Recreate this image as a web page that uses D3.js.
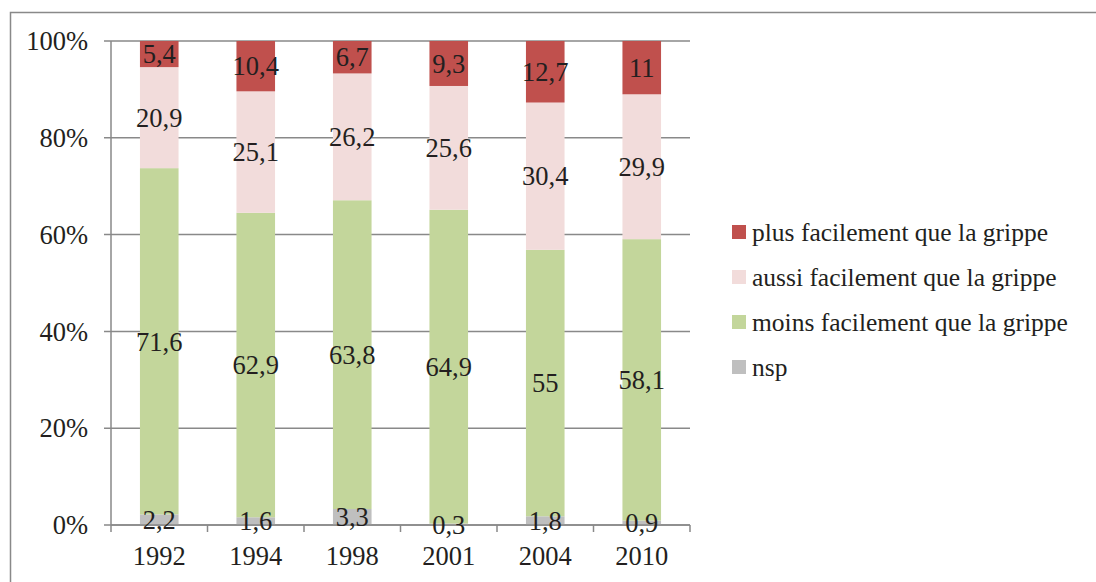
<!DOCTYPE html>
<html><head><meta charset="utf-8">
<script src="https://cdn.jsdelivr.net/npm/d3@7"></script>
<style>body{margin:0;background:#fff;} svg{display:block;}</style>
</head><body>
<svg id="c" width="1096" height="582" font-family="Liberation Serif"></svg>
<script>
const years = ["1992","1994","1998","2001","2004","2010"];
const seriesNames = ["nsp","moins facilement que la grippe","aussi facilement que la grippe","plus facilement que la grippe"];
const nsp   = [2.2, 1.6, 3.3, 0.3, 1.8, 0.9];
const moins = [71.6, 62.9, 63.8, 64.9, 55, 58.1];
const aussi = [20.9, 25.1, 26.2, 25.6, 30.4, 29.9];
const plus  = [5.4, 10.4, 6.7, 9.3, 12.7, 11];
const yTicks = [0, 0.2, 0.4, 0.6, 0.8, 1];
const colors = ["#BFBFBF", "#C3D69B", "#F2DCDB", "#C0504D"];

const svg = d3.select("#c");
const L = 111, R = 690, T = 41, B = 525;
const FS = 26.5, LFS = 25.5;

svg.append("path").attr("d", "M10.5,600 V12.5 H1100").attr("fill","none").attr("stroke","#898989").attr("stroke-width",1.5);

const x = d3.scaleBand().domain(years).range([L, R]).paddingInner(0.6).paddingOuter(0.3);
const y = d3.scaleLinear().domain([0,1]).range([B, T]);

svg.append("g").selectAll("line").data(yTicks).join("line")
  .attr("x1", L-7).attr("x2", R).attr("y1", d=>y(d)).attr("y2", d=>y(d))
  .attr("stroke","#898989").attr("stroke-width",1.5);

const rows = years.map((yr,i)=>{
  const vals = [nsp[i], moins[i], aussi[i], plus[i]];
  const tot = d3.sum(vals);
  return {year: yr, vals, 0: vals[0]/tot, 1: vals[1]/tot, 2: vals[2]/tot, 3: vals[3]/tot};
});
const stacked = d3.stack().keys([0,1,2,3])(rows);
const fmt = v => String(v).replace(".", ",");

stacked.forEach((layer, k) => {
  svg.append("g").selectAll("rect").data(layer).join("rect")
    .attr("x", d=>x(d.data.year)).attr("width", x.bandwidth())
    .attr("y", d=>y(d[1])).attr("height", d=>y(d[0])-y(d[1]))
    .attr("fill", colors[k]);
});
svg.append("line").attr("x1",L).attr("x2",L).attr("y1",T).attr("y2",B).attr("stroke","#898989").attr("stroke-width",1.5);

const xb = d3.scaleLinear().domain([0, years.length]).range([L, R]);
svg.append("line").attr("x1",L).attr("x2",R).attr("y1",B).attr("y2",B).attr("stroke","#898989").attr("stroke-width",1.5);
svg.append("g").selectAll("line").data(d3.range(years.length+1)).join("line")
  .attr("x1", d=>xb(d)).attr("x2", d=>xb(d)).attr("y1", B).attr("y2", B+7)
  .attr("stroke","#898989").attr("stroke-width",1.5);

stacked.forEach((layer, k) => {
  svg.append("g").selectAll("text").data(layer).join("text")
    .attr("x", d=>x(d.data.year)+x.bandwidth()/2)
    .attr("y", d=>(y(d[0])+y(d[1]))/2)
    .attr("dy","0.35em")
    .attr("text-anchor","middle")
    .attr("font-size", FS).attr("fill","#231F20")
    .text(d=>fmt(d.data.vals[k]));
});

svg.append("g").selectAll("text").data(yTicks).join("text")
  .attr("x", 88).attr("y", d=>y(d)).attr("dy","0.35em").attr("text-anchor","end")
  .attr("font-size", FS).attr("fill","#231F20")
  .text(d=>Math.round(d*100)+"%");

svg.append("g").selectAll("text").data(years).join("text")
  .attr("x", d=>x(d)+x.bandwidth()/2).attr("y", 565).attr("text-anchor","middle")
  .attr("font-size", FS).attr("fill","#231F20")
  .text(d=>d);

const legendOrder = [3,2,1,0];
const lg = svg.append("g").selectAll("g").data(legendOrder).join("g")
  .attr("transform", (d,i)=>`translate(732,${232 + i*45})`);
lg.append("rect").attr("x",0).attr("y",-7).attr("width",14).attr("height",14).attr("fill", d=>colors[d]);
lg.append("text").attr("x",20).attr("y",0).attr("dy","0.35em")
  .attr("font-size", LFS).attr("fill","#231F20")
  .text(d=>seriesNames[d]);
</script>
</body></html>
